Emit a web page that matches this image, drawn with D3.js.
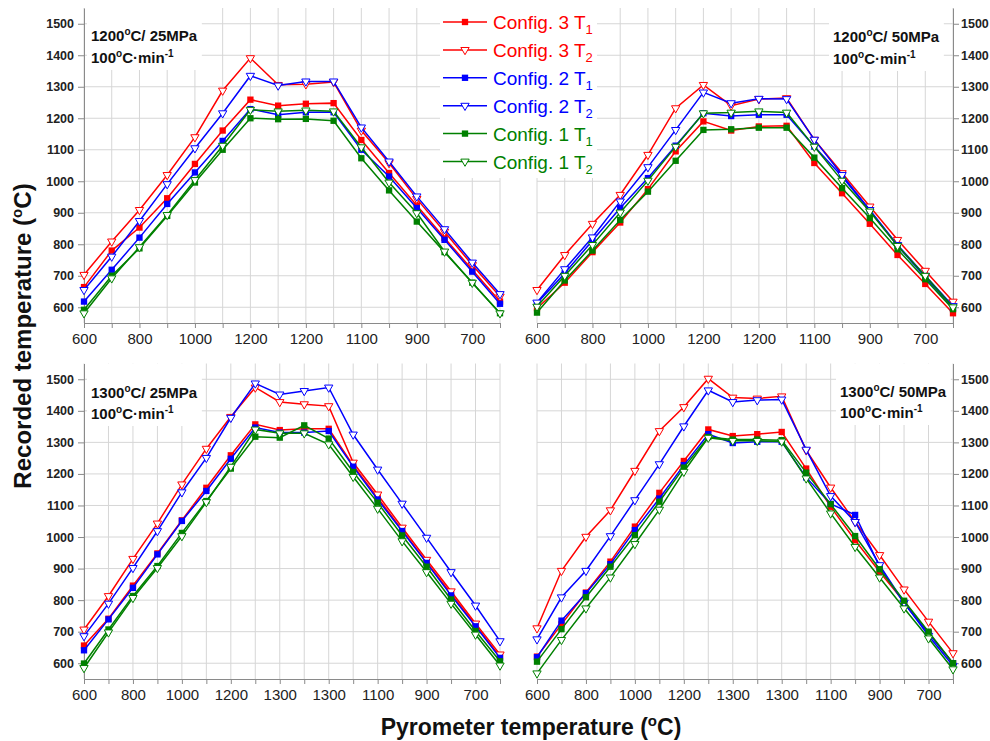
<!DOCTYPE html>
<html>
<head>
<meta charset="utf-8">
<style>
  body { margin: 0; background: #fff; }
  text { font-family: Arial, "Liberation Sans", sans-serif; }
  .grid line { stroke: #d6d6d6; stroke-width: 1; }
  .axis path, .axis line { stroke: #8a8a8a; stroke-width: 1; }
  .axis.y text { font-weight: bold; font-size: 12.5px; fill: #222; }
  .axis.x text { font-size: 15px; fill: #222; }
  .note { font-weight: bold; font-size: 15px; fill: #111; }
</style>
</head>
<body>
<svg width="990" height="741"></svg>
<script src="https://cdn.jsdelivr.net/npm/d3@7"></script>
<script>

// categories (pyrometer set points)
var catsTop = ["600","700","800","900","1000","1100","1200","1200","1200","1200","1100","1000","900","800","700","600"];
var catsBottom = ["600","700","800","900","1000","1100","1200","1300","1300","1300","1300","1200","1100","1000","900","800","700","600"];

// 1200C / 25MPa
var tl31 = [664,780,853,946,1055,1161,1259,1240,1246,1248,1131,1026,923,820,719,618];
var tl32 = [703,809,909,1020,1140,1288,1391,1306,1308,1315,1161,1058,944,840,734,634];
var tl21 = [618,719,821,928,1028,1128,1229,1211,1219,1219,1100,1015,915,814,713,611];
var tl22 = [655,761,874,991,1105,1216,1335,1304,1317,1317,1171,1063,952,848,742,642];
var tl11 = [592,700,787,890,996,1100,1200,1197,1198,1192,1073,971,872,775,678,581];
var tl12 = [581,692,791,893,1004,1113,1227,1222,1225,1222,1108,996,899,777,678,581];

// 1200C / 50MPa
var tr31 = [597,678,775,869,975,1095,1190,1161,1174,1176,1058,962,865,766,674,581];
var tr32 = [655,766,865,957,1084,1232,1306,1240,1261,1264,1132,1026,920,814,716,618];
var tr21 = [613,708,812,915,1010,1113,1216,1207,1211,1211,1110,1015,907,795,695,597];
var tr22 = [615,721,822,936,1045,1163,1282,1248,1262,1261,1132,1020,909,798,700,604];
var tr11 = [583,685,780,877,967,1065,1163,1165,1170,1170,1075,978,883,784,689,594];
var tr12 = [602,700,798,901,1002,1110,1216,1218,1222,1218,1110,1002,904,795,700,600];

// 1300C / 25MPa
var bl31 = [656,741,846,948,1053,1156,1259,1357,1339,1343,1343,1227,1125,1022,920,820,720,621];
var bl32 = [707,813,931,1043,1167,1280,1381,1474,1428,1421,1415,1236,1135,1030,928,828,726,628];
var bl21 = [641,739,839,945,1051,1146,1248,1347,1331,1331,1336,1223,1119,1019,918,815,717,617];
var bl22 = [686,789,902,1019,1142,1251,1378,1487,1452,1463,1474,1325,1214,1106,998,889,783,670];
var bl11 = [599,707,813,908,1013,1114,1217,1318,1315,1354,1312,1206,1109,1005,906,802,702,606];
var bl12 = [585,698,807,902,1003,1111,1223,1341,1329,1329,1294,1191,1090,987,889,789,691,593];

// 1300C / 50MPa
var br31 = [621,723,824,922,1033,1140,1241,1341,1320,1326,1333,1217,1096,990,890,795,697,600];
var br32 = [711,893,1001,1085,1210,1336,1412,1502,1442,1439,1446,1275,1157,1048,943,834,732,632];
var br21 = [619,735,822,914,1022,1122,1228,1326,1298,1302,1302,1189,1105,1070,906,790,695,600];
var br22 = [676,809,893,1003,1117,1231,1351,1465,1428,1434,1436,1277,1130,1048,911,792,687,592];
var br11 = [605,708,809,906,1006,1112,1220,1317,1309,1309,1307,1204,1104,1003,898,798,700,600];
var br12 = [568,674,774,872,978,1087,1207,1315,1305,1305,1303,1186,1075,969,872,774,679,581];

var yTicks = [600,700,800,900,1000,1100,1200,1300,1400,1500];
var configNo = ["3","3","2","2","1","1"];
var probeNo = ["1","2","1","2","1","2"];
var colors = ["#ff0000","#ff0000","#0000ff","#0000ff","#008000","#008000"];
var filled = [true,false,true,false,true,false];

var panels = [
  {x0: 84, x1: 500, y0: 8, y1: 323, cats: catsTop, data: [tl31,tl32,tl21,tl22,tl11,tl12],
   temp: "1200", press: "25", side: "left", nx: 91, ny: [41, 63]},
  {x0: 537, x1: 953, y0: 8, y1: 323, cats: catsTop, data: [tr31,tr32,tr21,tr22,tr11,tr12],
   temp: "1200", press: "50", side: "right", nx: 833, ny: [42, 64]},
  {x0: 84, x1: 500, y0: 363.5, y1: 679, cats: catsBottom, data: [bl31,bl32,bl21,bl22,bl11,bl12],
   temp: "1300", press: "25", side: "left", nx: 91, ny: [398, 419]},
  {x0: 537, x1: 953, y0: 363.5, y1: 679, cats: catsBottom, data: [br31,br32,br21,br22,br11,br12],
   temp: "1300", press: "50", side: "right", nx: 840, ny: [397, 418]}
];

var svg = d3.select("svg");
svg.append("rect").attr("width", 990).attr("height", 741).attr("fill", "#fff");

var square = d3.symbol().type(d3.symbolSquare).size(40);
var tri = d3.symbol().type(d3.symbolTriangle).size(30);

function marker(sel, i) {
  if (filled[i]) {
    sel.append("path").attr("d", square).attr("fill", colors[i]);
  } else {
    sel.append("path").attr("d", tri).attr("transform", "rotate(180)")
      .attr("fill", "#fff").attr("stroke", colors[i]).attr("stroke-width", 1);
  }
}

panels.forEach(function(p) {
  var n = p.cats.length;
  var x = d3.scalePoint().domain(d3.range(n)).range([p.x0, p.x1]);
  var y = d3.scaleLinear().domain([550, 1550]).range([p.y1, p.y0]);
  var g = svg.append("g");

  // grid
  var grid = g.append("g").attr("class", "grid");
  grid.selectAll(".h").data(yTicks).enter().append("line")
    .attr("x1", p.x0).attr("x2", p.x1)
    .attr("y1", function(d) { return y(d); }).attr("y2", function(d) { return y(d); });
  grid.selectAll(".v").data(d3.range(n)).enter().append("line")
    .attr("x1", function(d) { return x(d); }).attr("x2", function(d) { return x(d); })
    .attr("y1", y(1550)).attr("y2", y(550));

  // note box + text
  var note = g.append("g");
  var t1 = note.append("text").attr("class", "note").attr("x", p.nx).attr("y", p.ny[0]);
  t1.append("tspan").text(p.temp);
  t1.append("tspan").attr("font-size", "10px").attr("dy", -6).text("o");
  t1.append("tspan").attr("dy", 6).text("C/ " + p.press + "MPa");
  var t2 = note.append("text").attr("class", "note").attr("x", p.nx).attr("y", p.ny[1]);
  t2.append("tspan").text("100");
  t2.append("tspan").attr("font-size", "10px").attr("dy", -6).text("o");
  t2.append("tspan").attr("dy", 6).text("C\u00b7min");
  t2.append("tspan").attr("font-size", "10px").attr("dy", -6).text("-1");
  var bb = note.node().getBBox();
  note.insert("rect", "text").attr("x", bb.x - 4).attr("y", p.y0)
    .attr("width", bb.width + 8).attr("height", bb.y + bb.height + 4 - p.y0).attr("fill", "#fff");

  // axes
  var xAxis = d3.axisBottom(x).tickSize(5).tickSizeOuter(0).tickPadding(5)
    .tickFormat(function(i) { return i % 2 === 0 ? p.cats[i] : ""; });
  g.append("g").attr("class", "axis x").attr("transform", "translate(0," + p.y1 + ")").call(xAxis);

  var yAxis = (p.side === "left" ? d3.axisLeft(y).tickPadding(4) : d3.axisRight(y).tickPadding(2))
    .tickValues(yTicks).tickSize(6).tickSizeOuter(0).tickFormat(d3.format("d"));
  g.append("g").attr("class", "axis y")
    .attr("transform", "translate(" + (p.side === "left" ? p.x0 : p.x1) + ",0)").call(yAxis);

  // series
  var line = d3.line().x(function(d, i) { return x(i); }).y(function(d) { return y(d); });
  p.data.forEach(function(vals, si) {
    g.append("path").datum(vals).attr("d", line)
      .attr("fill", "none").attr("stroke", colors[si]).attr("stroke-width", 1.5);
    g.selectAll(null).data(vals).enter().append("g")
      .attr("transform", function(d, i) { return "translate(" + x(i) + "," + y(d) + ")"; })
      .each(function() { marker(d3.select(this), si); });
  });
});

// legend
var lg = svg.append("g");
lg.append("rect").attr("x", 440).attr("y", 0).attr("width", 157).attr("height", 178).attr("fill", "#fff");
configNo.forEach(function(c, i) {
  var ly = 22 + i * 27.9;
  lg.append("line").attr("x1", 443).attr("x2", 487).attr("y1", ly).attr("y2", ly)
    .attr("stroke", colors[i]).attr("stroke-width", 1.5);
  marker(lg.append("g").attr("transform", "translate(465," + ly + ")"), i);
  var t = lg.append("text").attr("x", 493).attr("y", ly + 7).attr("font-size", "19px").attr("fill", colors[i]);
  t.append("tspan").text("Config. " + c + " T");
  t.append("tspan").attr("font-size", "13px").attr("dy", 5).text(probeNo[i]);
});

// axis titles
var yt = svg.append("text").attr("transform", "translate(31,336) rotate(-90)")
  .attr("text-anchor", "middle").attr("font-weight", "bold").attr("font-size", "24px").attr("fill", "#111");
yt.append("tspan").text("Recorded temperature (");
yt.append("tspan").attr("font-size", "15px").attr("dy", -9).text("o");
yt.append("tspan").attr("dy", 9).text("C)");

var xt = svg.append("text").attr("x", 531).attr("y", 735)
  .attr("text-anchor", "middle").attr("font-weight", "bold").attr("font-size", "23px").attr("fill", "#111");
xt.append("tspan").text("Pyrometer temperature (");
xt.append("tspan").attr("font-size", "15px").attr("dy", -9).text("o");
xt.append("tspan").attr("dy", 9).text("C)");

</script>
</body>
</html>
